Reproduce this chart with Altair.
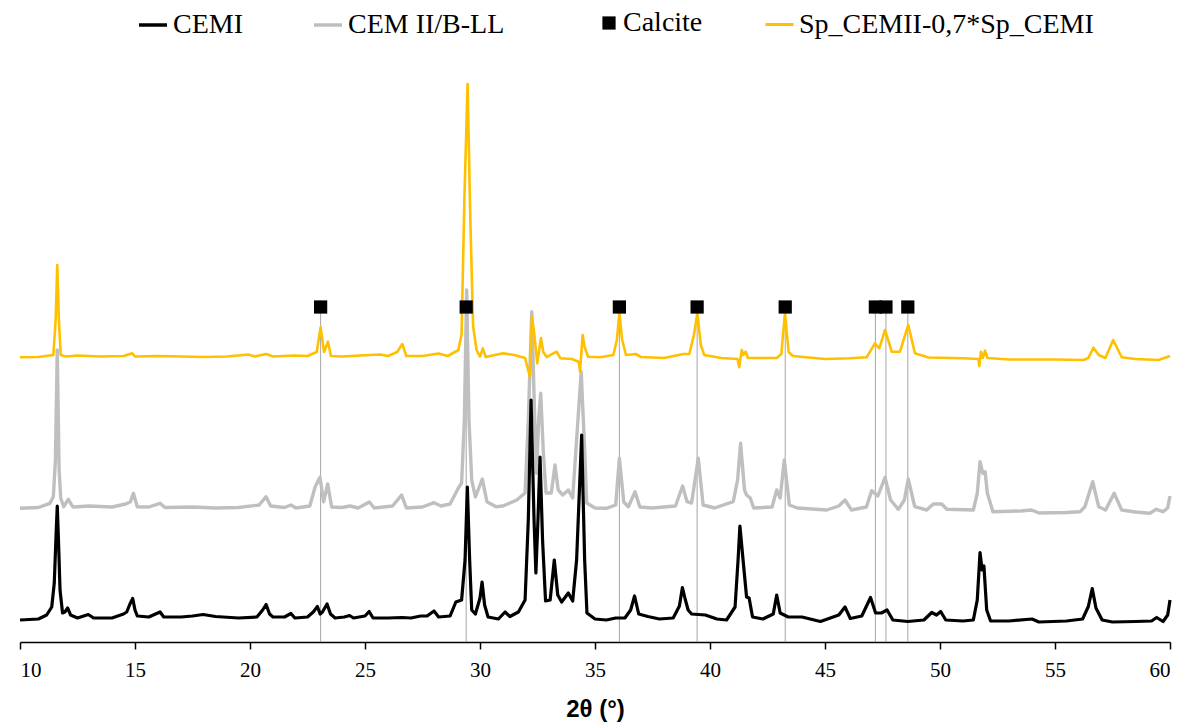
import altair as alt
import pandas as pd

# ---------------- data (2θ in °, intensity in a.u.) ----------------
cemi_2theta = [10.0, 10.8, 11.16, 11.38, 11.49, 11.56, 11.62, 11.68, 11.74, 11.85, 11.95, 12.07, 12.2, 12.5,
               12.97, 13.2, 14.0, 14.5, 14.64, 14.78, 14.9, 15.0, 15.1, 15.6, 16.09, 16.25, 17.0, 17.5, 17.96,
               18.5, 19.5, 20.3, 20.55, 20.7, 20.85, 21.0, 21.5, 21.78, 21.95, 22.5, 22.75, 22.93, 23.05, 23.15,
               23.35, 23.5, 23.7, 24.1, 24.33, 24.5, 25.0, 25.18, 25.35, 26.0, 26.6, 27.0, 27.42, 27.7, 28.0,
               28.2, 28.7, 28.95, 29.2, 29.35, 29.45, 29.55, 29.64, 29.8, 30.0, 30.09, 30.2, 30.35, 30.8, 31.09,
               31.3, 31.67, 31.96, 32.1, 32.22, 32.35, 32.43, 32.52, 32.61, 32.72, 32.85, 33.05, 33.23, 33.38,
               33.55, 33.84, 34.03, 34.2, 34.42, 34.55, 34.65, 35.0, 35.5, 35.9, 36.3, 36.55, 36.72, 36.9, 37.3,
               37.8, 38.4, 38.67, 38.8, 38.93, 39.05, 39.2, 39.8, 40.3, 40.72, 41.09, 41.22, 41.3, 41.45, 41.59,
               41.7, 41.85, 42.3, 42.75, 42.9, 43.05, 43.4, 44.0, 44.8, 45.6, 45.87, 46.1, 46.6, 46.98, 47.2,
               47.45, 47.7, 47.95, 48.6, 49.3, 49.64, 49.85, 50.03, 50.25, 51.0, 51.45, 51.62, 51.74, 51.83,
               51.91, 52.03, 52.2, 53.0, 54.0, 54.3, 55.5, 56.2, 56.45, 56.62, 56.78, 57.05, 57.5, 58.5, 59.2,
               59.42, 59.7, 59.9, 60.0]
cemi_int = [22, 23, 27, 35, 59, 102, 136, 97, 52, 29, 30, 34, 27, 24,
            27.5, 24, 24, 28, 30, 38, 43.5, 32, 26, 25, 30, 25, 25, 26, 27.5,
            25.5, 24, 25, 32, 37.5, 28, 25, 25, 28.5, 24, 25, 30, 35.5, 28, 30,
            38, 28, 24, 25, 26.5, 24, 26, 30.5, 24, 24, 24.5, 24, 26, 26, 31,
            25, 26, 40, 42, 82, 155, 82, 32, 28, 44, 60, 37, 25, 23, 30,
            25.5, 30, 42, 122, 242, 122, 69, 122, 185, 102, 41, 42, 82, 47,
            40, 49, 41, 82, 207, 82, 29, 23, 22, 24, 24, 32, 46, 28, 25.5,
            23, 24, 36, 54.5, 42, 32, 28, 27, 23, 22, 35, 82, 116, 79, 45,
            44, 25, 23, 28, 47, 29, 25, 25, 20.5, 27, 35, 23.5, 26, 44.5, 29,
            29, 32, 22, 20.5, 22, 29.5, 27, 30.5, 22, 21, 22, 42, 89.5, 72,
            76, 32, 21, 21, 23, 20, 21, 23, 35.5, 53.5, 34, 22, 20, 20.5, 21,
            24.5, 20.5, 27, 42]

cem2_2theta = [10.0, 10.8, 11.3, 11.45, 11.54, 11.62, 11.7, 11.77, 11.9, 12.1, 12.3, 13.0, 14.0, 14.6, 14.8,
               14.93, 15.1, 15.6, 16.09, 16.3, 17.5, 18.5, 19.5, 20.4, 20.7, 20.9, 21.5, 21.78, 22.0, 22.6,
               22.83, 23.04, 23.2, 23.38, 23.55, 24.0, 24.35, 24.7, 25.19, 25.4, 26.2, 26.59, 26.8, 27.5, 28.0,
               28.3, 28.7, 29.06, 29.2, 29.32, 29.42, 29.52, 29.64, 29.8, 30.1, 30.3, 30.7, 31.0, 31.3, 31.6,
               31.96, 32.1, 32.25, 32.38, 32.46, 32.55, 32.64, 32.75, 32.87, 33.1, 33.26, 33.4, 33.6, 33.84,
               34.03, 34.2, 34.4, 34.55, 34.64, 35.0, 35.5, 35.9, 36.06, 36.25, 36.45, 36.74, 36.95, 37.5, 38.5,
               38.81, 39.0, 39.2, 39.49, 39.7, 40.2, 41.01, 41.2, 41.33, 41.5, 41.59, 41.75, 41.9, 42.7, 42.9,
               43.05, 43.23, 43.45, 43.8, 45.07, 45.6, 45.87, 46.15, 46.8, 47.03, 47.3, 47.61, 47.85, 48.19,
               48.45, 48.62, 48.9, 49.42, 49.71, 50.07, 50.3, 51.45, 51.62, 51.74, 51.86, 51.96, 52.06, 52.3,
               53.5, 53.98, 54.3, 55.5, 56.09, 56.3, 56.64, 56.9, 57.2, 57.57, 57.9, 58.5, 59.13, 59.4, 59.7,
               59.9, 60.0]
cem2_int = [133.7, 134.5, 138.7, 145.3, 182, 292, 172, 144, 135.3, 142.7, 135, 136, 135, 138, 140.3,
            148.7, 135.3, 135, 138.7, 134.5, 135, 134, 134.5, 137, 145.3, 136, 134.5, 137, 134, 136,
            155, 164.7, 140.3, 158, 135, 134.5, 136, 134, 140, 134, 136, 147, 134, 135, 139.3,
            136, 138, 154, 159, 222, 352, 222, 162, 145, 163, 140.3, 135.3, 136, 139, 142,
            149, 222, 330.3, 222, 168.7, 222, 248.7, 192, 149, 149, 177, 152, 147, 152,
            144, 202, 270.3, 192, 139, 134, 133.7, 137, 183.7, 140, 135.3, 150.3, 135, 134, 136,
            156, 140.3, 139, 183.7, 137, 134, 140.3, 162, 198.7, 152, 147, 144, 134, 135, 152,
            144, 182, 137, 134, 132, 136, 142, 132, 135, 151.3, 146, 164.7, 142, 132.7,
            142, 163, 135.3, 132, 138, 138, 132.7, 132, 148.7, 180.3, 168.7, 170.3, 148.7, 130.3,
            131, 132, 129, 129.5, 130.3, 135.3, 160.3, 135.3, 132, 148.7, 132, 130, 128.7, 132.7, 130.3,
            134, 146]

sp_2theta = [10.0, 10.8, 11.45, 11.55, 11.62, 11.69, 11.77, 12.0, 12.5, 13.5, 14.5, 14.78, 14.88, 15.0, 16.0,
             17.0, 18.0, 19.0, 19.93, 20.2, 20.7, 21.0, 21.9, 22.5, 22.9, 23.07, 23.22, 23.39, 23.52, 24.0,
             25.2, 25.65, 26.0, 26.4, 26.62, 26.8, 27.5, 28.2, 28.6, 29.06, 29.2, 29.32, 29.46, 29.58, 29.7,
             29.85, 30.0, 30.12, 30.25, 31.0, 31.5, 31.96, 32.17, 32.26, 32.35, 32.49, 32.65, 32.75, 32.9,
             33.33, 33.5, 34.0, 34.3, 34.35, 34.46, 34.55, 34.7, 35.22, 35.8, 35.95, 36.06, 36.18, 36.35,
             36.77, 37.0, 38.0, 38.84, 39.1, 39.3, 39.45, 39.6, 39.75, 40.5, 41.2, 41.27, 41.38, 41.45, 41.55,
             41.65, 42.5, 42.9, 43.1, 43.26, 43.42, 43.6, 45.0, 46.09, 46.81, 47.17, 47.36, 47.61, 47.9,
             48.26, 48.62, 48.91, 49.5, 51.0, 51.67, 51.71, 51.78, 51.86, 51.96, 52.06, 53.0, 55.0, 56.23,
             56.45, 56.67, 56.9, 57.19, 57.53, 57.9, 58.5, 59.5, 60.0]
sp_int = [284.7, 285, 287, 322, 377, 322, 287, 285.5, 286.5, 285.5, 286, 288, 288.7, 285.5, 286,
          285.5, 285, 285.5, 287.5, 285.5, 288, 285.5, 286.5, 286, 290, 314.7, 290, 300.3, 286, 285.5,
          287, 287.5, 286, 290, 298, 286, 286, 288.5, 286, 292, 308, 442, 558, 422, 316,
          292, 285.3, 293.7, 285, 288.7, 287, 284, 265.3, 325.3, 310, 278.7, 304, 290, 285,
          290.3, 283.7, 283, 280, 270.3, 307, 295, 285.3, 284.7, 287, 302, 328.7, 302, 287,
          288, 285, 284, 288, 288, 307, 328.7, 297, 287, 284, 283, 274.7, 292, 287, 290.3,
          284, 284, 284, 288, 328.7, 290, 286, 283, 283.7, 284.7, 298.7, 293.7, 312, 290.3,
          290.3, 317, 288.7, 284.5, 283.7, 283, 276, 290.3, 284, 291.3, 284, 282.5, 282.5, 282,
          284, 294.3, 287, 284, 302, 284.7, 283, 282, 286]

calcite_2theta = [23.07, 29.4, 36.06, 39.44, 43.27, 47.19, 47.65, 48.6]
calcite_level = [335, 335, 335, 335, 335, 335, 335, 335]

series_names = ["CEMI", "CEM II/B-LL", "Calcite", "Sp_CEMII-0,7*Sp_CEMI"]
line_names = [series_names[0], series_names[1], series_names[3]]
line_colors = ["#000000", "#BFBFBF", "#FFC000"]
series_data = {series_names[0]: (cemi_2theta, cemi_int),
               series_names[1]: (cem2_2theta, cem2_int),
               series_names[3]: (sp_2theta, sp_int)}

calcite_df = pd.DataFrame({"x": calcite_2theta, "y": calcite_level,
                           "base": [0] * len(calcite_2theta), "series": series_names[2]})

xscale = alt.Scale(domain=[10, 60], nice=False, zero=False)
yscale = alt.Scale(domain=[0, 580], nice=False, zero=False)

x_axis = alt.Axis(values=list(range(10, 61, 5)), title="2θ (°)", grid=False,
                  domainColor="black", domainWidth=1.5, tickColor="black", tickWidth=1.5,
                  tickSize=7, labelFont="Liberation Serif", labelFontSize=21, labelColor="black",
                  labelPadding=10, titleFont="Liberation Sans", titleFontSize=24,
                  titleFontWeight="bold", titleColor="black", titlePadding=17)
x_enc = alt.X("x:Q", scale=xscale, axis=x_axis)
y_enc = alt.Y("y:Q", scale=yscale, axis=None)
y2_enc = alt.Y2("base:Q")

LEG_Y = -53
leg_common = dict(orient="none", legendY=LEG_Y, title=None, labelLimit=500,
                  labelFont="Liberation Serif", labelFontSize=28, labelColor="black")

color_legend = alt.Legend(legendX=117, direction="horizontal", values=line_names[:2],
                          symbolType="stroke", symbolSize=784, symbolStrokeWidth=3.5, labelOffset=4,
                          columnPadding=64, **leg_common)
color_scale = alt.Scale(domain=line_names, range=line_colors)


def line_layer(name, width, extra=None):
    xs, ys = series_data[name]
    df = pd.DataFrame({"x": xs, "y": ys, "series": name})
    enc = dict(x=x_enc, y=y_enc, color=alt.Color("series:N", scale=color_scale, legend=color_legend))
    if extra:
        enc.update(extra)
    return alt.Chart(df).mark_line(strokeWidth=width, strokeJoin="round").encode(**enc)


rules = alt.Chart(calcite_df).mark_rule(color="#A6A6A6", strokeWidth=1).encode(
    x=x_enc, y=y_enc, y2=y2_enc)

gray = line_layer(series_names[1], 3.4)
black = line_layer(series_names[0], 3.2)
gold = line_layer(series_names[3], 2.6, extra=dict(
    opacity=alt.Opacity("series:O", scale=alt.Scale(domain=[series_names[3]], range=[1]),
                        legend=alt.Legend(legendX=744, symbolType="stroke", symbolSize=784,
                                          symbolStrokeWidth=3, symbolStrokeColor="#FFC000",
                                          labelOffset=4, **leg_common))))

squares = alt.Chart(calcite_df).mark_point(size=175, opacity=1, filled=True, color="#000000",
                                           strokeWidth=0).encode(
    x=x_enc, y=y_enc,
    shape=alt.Shape("series:N", scale=alt.Scale(domain=[series_names[2]], range=["square"]),
                    legend=alt.Legend(legendX=575, symbolSize=175, symbolFillColor="#000000",
                                      symbolStrokeWidth=0, labelOffset=0, **leg_common)))

chart = alt.layer(rules, gray, black, gold, squares).properties(
    width=1150, height=580, autosize=alt.AutoSizeParams(type="none"),
    padding={"left": 12, "top": 54, "right": 14, "bottom": 82}
).configure_view(stroke=None).configure_axisX(
    labelFont="Liberation Serif", labelFontSize=21, labelColor="black", labelPadding=10,
    tickSize=7, titleFont="Liberation Sans", titleFontSize=24, titleFontWeight="bold"
)

chart.save("out.html", embed_options={"renderer": "svg", "actions": False})
